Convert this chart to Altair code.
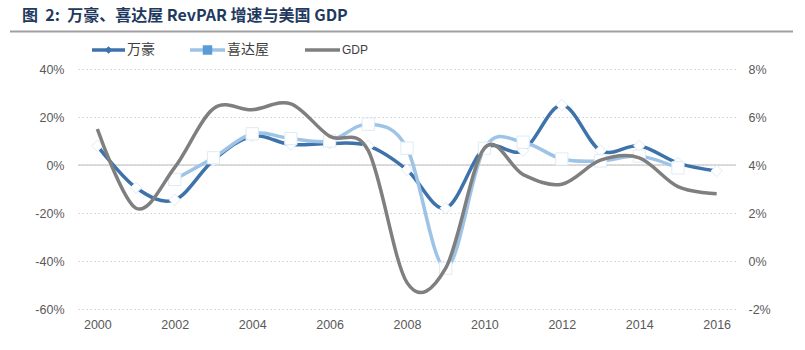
import altair as alt
import pandas as pd

years = list(range(2000, 2017))
marriott = [8, -9.5, -14.5, 2, 12, 8.5, 9, 8, -2, -18, 7, 6, 25, 6, 8, 0.8, -2.5]
starwood_years = list(range(2002, 2016))
starwood = [-6, 3, 13, 11, 10, 17, 7, -43, 7, 9.5, 2.5, 1.7, 3.7, -1.2]
gdp = [5.5, 2.2, 3.9, 6.35, 6.3, 6.55, 5.2, 4.6, -0.9, -0.3, 4.7, 3.6, 3.2, 4.2, 4.3, 3.1, 2.8]

left_ticks = [-60, -40, -20, 0, 20, 40]
right_ticks = [-2, 0, 2, 4, 6, 8]
x_ticks = list(range(2000, 2017, 2))

title_text = "图\u00a0\u00a02:\u00a0\u00a0万豪、喜达屋\u00a0RevPAR\u00a0增速与美国\u00a0GDP"
legend_labels = ["万豪", "喜达屋", "GDP"]

DARK = "#3D72AA"
LIGHT = "#9DC3E6"
GRAY = "#7F7F7F"
FONT = "Liberation Sans"

df_m = pd.DataFrame({"year": years, "v": marriott})
df_s = pd.DataFrame({"year": starwood_years, "v": starwood})
df_g = pd.DataFrame({"year": years, "v": gdp})

xscale = alt.Scale(domain=[1999.5, 2016.5], nice=False, zero=False)
yl_scale = alt.Scale(domain=[-60, 40], nice=False, zero=False)
yr_scale = alt.Scale(domain=[-2, 8], nice=False, zero=False)

xenc = alt.X("year:Q", scale=xscale,
             axis=alt.Axis(values=x_ticks, format="d", title=None, grid=False, ticks=False,
                           domain=False, labelPadding=9, labelFontSize=12.5,
                           labelColor="#595959", labelFont=FONT))

left_axis = alt.Axis(values=left_ticks, labelExpr="datum.value + '%'", title=None, ticks=False,
                     domain=False, grid=True, gridColor="#D0D0D0", gridDash=[1.5, 2.5],
                     gridWidth=1, labelPadding=14, labelFontSize=12.5, labelColor="#595959",
                     labelFont=FONT)
right_axis = alt.Axis(values=right_ticks, labelExpr="datum.value + '%'", title=None, ticks=False,
                      domain=False, grid=False, orient="right", labelPadding=12,
                      labelFontSize=12.5, labelColor="#595959", labelFont=FONT)

zero_df = pd.DataFrame({"v": [0]})
zero_rule = alt.Chart(zero_df).mark_rule(color="#D0D0D0", strokeWidth=1.5).encode(
    y=alt.Y("v:Q", scale=yl_scale, axis=left_axis)
)

m_line = alt.Chart(df_m).mark_line(color=DARK, strokeWidth=3.5, interpolate="cardinal").encode(
    x=xenc, y=alt.Y("v:Q", scale=yl_scale, axis=left_axis))
m_pts = alt.Chart(df_m).mark_point(shape="diamond", filled=True, fill="white", stroke="#DDEBF7",
                                   strokeWidth=1, size=130, opacity=1).encode(
    x=alt.X("year:Q", scale=xscale), y=alt.Y("v:Q", scale=yl_scale))
s_line = alt.Chart(df_s).mark_line(color=LIGHT, strokeWidth=3.5, interpolate="cardinal").encode(
    x=alt.X("year:Q", scale=xscale), y=alt.Y("v:Q", scale=yl_scale))
s_pts = alt.Chart(df_s).mark_point(shape="square", filled=True, fill="white", stroke="#DDEBF7",
                                   strokeWidth=1, size=150, opacity=1).encode(
    x=alt.X("year:Q", scale=xscale), y=alt.Y("v:Q", scale=yl_scale))

left_layer = alt.layer(zero_rule, m_line, m_pts, s_line, s_pts)

g_line = alt.Chart(df_g).mark_line(color=GRAY, strokeWidth=3.5, interpolate="cardinal").encode(
    x=alt.X("year:Q", scale=xscale), y=alt.Y("v:Q", scale=yr_scale, axis=right_axis))

# Title and header rule
title = alt.Chart(pd.DataFrame({"t": [title_text]})).mark_text(
    align="left", baseline="alphabetic", fontSize=16, fontWeight="bold",
    color="#1F3A60", font="Noto Sans CJK SC").encode(
    x=alt.value(-56), y=alt.value(-48), text="t:N")
header_rule = alt.Chart(pd.DataFrame({"a": [0]})).mark_rule(color="#A0A0A0", strokeWidth=2).encode(
    x=alt.value(-68), x2=alt.value(715), y=alt.value(-37.5))

# Legend
leg_y = -19
leg_m = alt.Chart(pd.DataFrame({"a": [0]})).mark_rule(color=DARK, strokeWidth=3.5).encode(
    x=alt.value(14), x2=alt.value(47), y=alt.value(leg_y))
leg_m_pt = alt.Chart(pd.DataFrame({"a": [0]})).mark_point(shape="diamond", filled=True,
                                                          color=DARK, size=60, opacity=1).encode(
    x=alt.value(30.5), y=alt.value(leg_y))
leg_s = alt.Chart(pd.DataFrame({"a": [0]})).mark_rule(color=LIGHT, strokeWidth=3.5).encode(
    x=alt.value(112), x2=alt.value(147), y=alt.value(leg_y))
leg_s_pt = alt.Chart(pd.DataFrame({"a": [0]})).mark_point(shape="square", filled=True,
                                                          color="#5B9BD5", size=90, opacity=1).encode(
    x=alt.value(129.5), y=alt.value(leg_y))
leg_g = alt.Chart(pd.DataFrame({"a": [0]})).mark_rule(color=GRAY, strokeWidth=3.5).encode(
    x=alt.value(227), x2=alt.value(262), y=alt.value(leg_y))
leg_t1 = alt.Chart(pd.DataFrame({"t": [legend_labels[0]]})).mark_text(
    align="left", baseline="middle", fontSize=14, color="#404040", font="Noto Sans CJK SC").encode(
    x=alt.value(49), y=alt.value(leg_y), text="t:N")
leg_t2 = alt.Chart(pd.DataFrame({"t": [legend_labels[1]]})).mark_text(
    align="left", baseline="middle", fontSize=14, color="#404040", font="Noto Sans CJK SC").encode(
    x=alt.value(149), y=alt.value(leg_y), text="t:N")
leg_t3 = alt.Chart(pd.DataFrame({"t": [legend_labels[2]]})).mark_text(
    align="left", baseline="middle", fontSize=12, color="#404040", font=FONT).encode(
    x=alt.value(264), y=alt.value(leg_y), text="t:N")

deco = alt.layer(title, header_rule, leg_m, leg_m_pt, leg_s, leg_s_pt, leg_g, leg_t1, leg_t2, leg_t3)

chart = alt.layer(left_layer, g_line, deco).resolve_scale(y="independent").properties(
    width=658, height=240,
    autosize=alt.AutoSizeParams(type="none"),
    padding={"left": 78, "top": 69, "right": 69, "bottom": 41},
    background="white",
).configure_view(stroke=None)

chart.save("out.html", embed_options={"renderer": "svg", "actions": False})
